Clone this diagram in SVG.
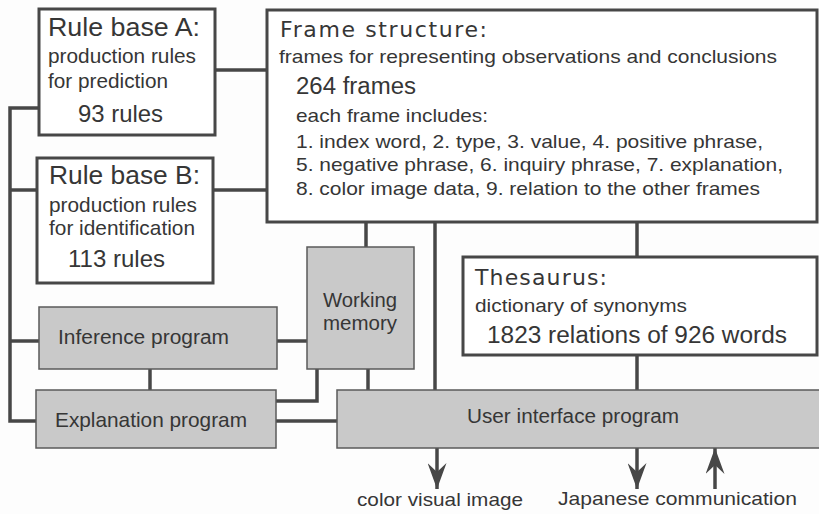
<svg xmlns="http://www.w3.org/2000/svg" width="819" height="514" viewBox="0 0 819 514">
  <defs>
    <style>
      .box { fill: #ffffff; stroke: #474747; stroke-width: 3; }
      .gbox { fill: #c9c9c9; stroke: #5a5a5a; stroke-width: 1.5; }
      .wire { fill: none; stroke: #474747; stroke-width: 3.5; }
      text { font-family: "Liberation Sans", Arial, Helvetica, sans-serif; fill: #363636; }
      .title { font-family: "DejaVu Sans", Verdana, sans-serif; font-size: 22px; }
      .t25 { font-size: 25px; }
      .t24 { font-size: 24px; }
      .t23 { font-size: 23px; }
      .t21 { font-size: 21px; }
      .t20 { font-size: 20px; }
      .t19 { font-size: 19px; }
    </style>
    <marker id="head" viewBox="0 0 26 19" refX="26" refY="9.5" markerWidth="26" markerHeight="19" markerUnits="userSpaceOnUse" orient="auto">
      <path d="M0,0 L26,9.5 L0,19 L9,9.5 Z" fill="#474747"/>
    </marker>
  </defs>

  <rect x="0" y="0" width="819" height="514" fill="#fdfdfd"/>

  <!-- connectors -->
  <g id="connectors">
    <path class="wire" d="M215 70 H267"/>
    <path class="wire" d="M39 108 H10 V421 H36"/>
    <path class="wire" d="M10 190 H37"/>
    <path class="wire" d="M10 341 H39"/>
    <path class="wire" d="M213 190 H267"/>
    <path class="wire" d="M277 341 H307"/>
    <path class="wire" d="M150 369 V390"/>
    <path class="wire" d="M366 247 V222"/>
    <path class="wire" d="M317 369 V401 H276"/>
    <path class="wire" d="M368 369 V390"/>
    <path class="wire" d="M435 222 V390"/>
    <path class="wire" d="M637 222 V257"/>
    <path class="wire" d="M637 355 V390"/>
    <path class="wire" d="M276 421 H337"/>
    <path class="wire" d="M437 448 V489" marker-end="url(#head)"/>
    <path class="wire" d="M637 448 V489" marker-end="url(#head)"/>
    <path class="wire" d="M715 489 V448" marker-end="url(#head)"/>
  </g>

  <g id="rule-base-a">
    <rect class="box" x="39" y="9" width="176" height="126"/>
    <text class="t25" x="48" y="36" textLength="152" lengthAdjust="spacingAndGlyphs">Rule base A:</text>
    <text class="t21" x="48" y="63" textLength="148" lengthAdjust="spacingAndGlyphs">production rules</text>
    <text class="t21" x="48" y="88" textLength="120" lengthAdjust="spacingAndGlyphs">for prediction</text>
    <text class="t24" x="78" y="122" textLength="85" lengthAdjust="spacingAndGlyphs">93 rules</text>
  </g>

  <g id="rule-base-b">
    <rect class="box" x="37" y="158" width="176" height="125"/>
    <text class="t25" x="49" y="184" textLength="151" lengthAdjust="spacingAndGlyphs">Rule base B:</text>
    <text class="t21" x="49" y="212" textLength="148" lengthAdjust="spacingAndGlyphs">production rules</text>
    <text class="t21" x="49" y="235" textLength="146" lengthAdjust="spacingAndGlyphs">for identification</text>
    <text class="t24" x="68" y="267" textLength="97" lengthAdjust="spacingAndGlyphs">113 rules</text>
  </g>

  <g id="frame-structure">
    <rect class="box" x="267" y="10" width="550" height="212"/>
    <text class="title" x="280" y="37" textLength="207" lengthAdjust="spacing">Frame structure:</text>
    <text class="t19" x="279" y="63" textLength="498" lengthAdjust="spacingAndGlyphs">frames for representing observations and conclusions</text>
    <text class="t23" x="296" y="94" textLength="120" lengthAdjust="spacingAndGlyphs">264 frames</text>
    <text class="t19" x="296" y="122" textLength="192" lengthAdjust="spacingAndGlyphs">each frame includes:</text>
    <text class="t19" x="296" y="148" textLength="467" lengthAdjust="spacingAndGlyphs">1. index word, 2. type, 3. value, 4. positive phrase,</text>
    <text class="t19" x="296" y="171" textLength="487" lengthAdjust="spacingAndGlyphs">5. negative phrase, 6. inquiry phrase, 7. explanation,</text>
    <text class="t19" x="296" y="195" textLength="464" lengthAdjust="spacingAndGlyphs">8. color image data, 9. relation to the other frames</text>
  </g>

  <g id="thesaurus">
    <rect class="box" x="463" y="257" width="354" height="98"/>
    <text class="title" x="475" y="285" textLength="132" lengthAdjust="spacing">Thesaurus:</text>
    <text class="t19" x="475" y="312" textLength="212" lengthAdjust="spacingAndGlyphs">dictionary of synonyms</text>
    <text class="t23" x="487" y="343" textLength="300" lengthAdjust="spacingAndGlyphs">1823 relations of 926 words</text>
  </g>

  <g id="working-memory">
    <rect class="gbox" x="307" y="247" width="107" height="122"/>
    <text class="t20" x="360" y="307" text-anchor="middle" textLength="74" lengthAdjust="spacingAndGlyphs">Working</text>
    <text class="t20" x="360" y="330" text-anchor="middle" textLength="74" lengthAdjust="spacingAndGlyphs">memory</text>
  </g>

  <g id="inference-program">
    <rect class="gbox" x="39" y="307" width="238" height="62"/>
    <text class="t20" x="58" y="344" textLength="171" lengthAdjust="spacingAndGlyphs">Inference program</text>
  </g>

  <g id="explanation-program">
    <rect class="gbox" x="36" y="390" width="240" height="58"/>
    <text class="t21" x="55" y="427" textLength="192" lengthAdjust="spacingAndGlyphs">Explanation program</text>
  </g>

  <g id="user-interface-program">
    <rect class="gbox" x="337" y="390" width="490" height="58"/>
    <text class="t20" x="467" y="423" textLength="212" lengthAdjust="spacingAndGlyphs">User interface program</text>
  </g>

  <g id="outputs">
    <text class="t19" x="357" y="506" textLength="166" lengthAdjust="spacingAndGlyphs">color visual image</text>
    <text class="t19" x="558" y="505" textLength="239" lengthAdjust="spacingAndGlyphs">Japanese communication</text>
  </g>
</svg>
